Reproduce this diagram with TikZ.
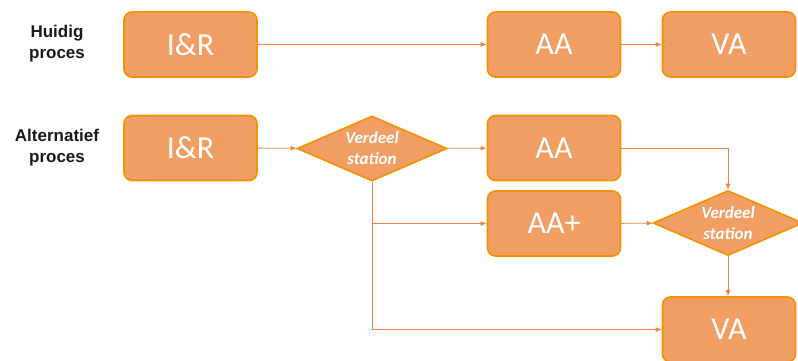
\documentclass[tikz,border=0pt]{standalone}
\usepackage{fontspec}
\setmainfont{Carlito}
\newfontfamily\labelfont{Liberation Sans}
\usetikzlibrary{shapes.geometric}
\usetikzlibrary{arrows.meta}

\definecolor{blokfill}{RGB}{240,158,100}
\definecolor{blokrand}{RGB}{243,146,0}
\definecolor{pijl}{RGB}{240,130,70}

\tikzset{
  blok/.style={draw=blokrand, line width=1.6pt, fill=blokfill, rounded corners=8pt,
    minimum width=133pt, minimum height=65pt, inner sep=0pt, text=white,
    font=\fontsize{32}{36}\selectfont},
  verdeel/.style={diamond, draw=blokrand, line width=1.6pt, fill=blokfill, aspect=2.3,
    minimum width=150pt, minimum height=65pt, inner sep=0pt, text=white, align=center,
    font=\fontsize{17}{21}\selectfont\bfseries\itshape},
  proces/.style={align=center, text=black!90, font=\labelfont\bfseries\fontsize{17}{21}\selectfont},
  lijn/.style={draw=pijl, line width=0.9pt, -{Latex[length=6pt,width=5pt]}}
}

\begin{document}
\begin{tikzpicture}[x=1pt,y=-1pt]
\useasboundingbox (0,0) rectangle (798,361);

% labels
\node[proces] (huidig) at (57,44) {Huidig\\proces};
\node[proces] (alternatief) at (57,148) {Alternatief\\proces};

% huidig proces
\node[blok] (hIR) at (190.5,44.5) {I\&R};
\node[blok] (hAA) at (554,44.5) {AA};
\node[blok] (hVA) at (729,44.5) {VA};

% alternatief proces
\node[blok] (aIR) at (190.5,148) {I\&R};
\node[verdeel] (vA) at (372,148.5) {Verdeel\\station};
\node[blok] (aAA) at (554,148) {AA};
\node[blok] (aAAplus) at (554,223.5) {AA+};
\node[verdeel] (vB) at (728,223) {Verdeel\\station};
\node[blok] (aVA) at (729,329.5) {VA};
\coordinate (splits) at (vA.south |- aAAplus.west);

% verbindingen
\draw[lijn] (hIR) -- (hAA);
\draw[lijn] (hAA) -- (hVA);
\draw[lijn] (aIR) -- (vA);
\draw[lijn] (vA) -- (aAA);
\draw[lijn] (aAA.east) -| (vB.north);
\draw[lijn] (aAAplus) -- (vB);
\draw[lijn] (vB.south) -- (aVA.north -| vB.south);
\draw[lijn] (vA.south) |- (aVA.west);
\draw[lijn] (splits) -- (aAAplus.west);

\end{tikzpicture}
\end{document}
